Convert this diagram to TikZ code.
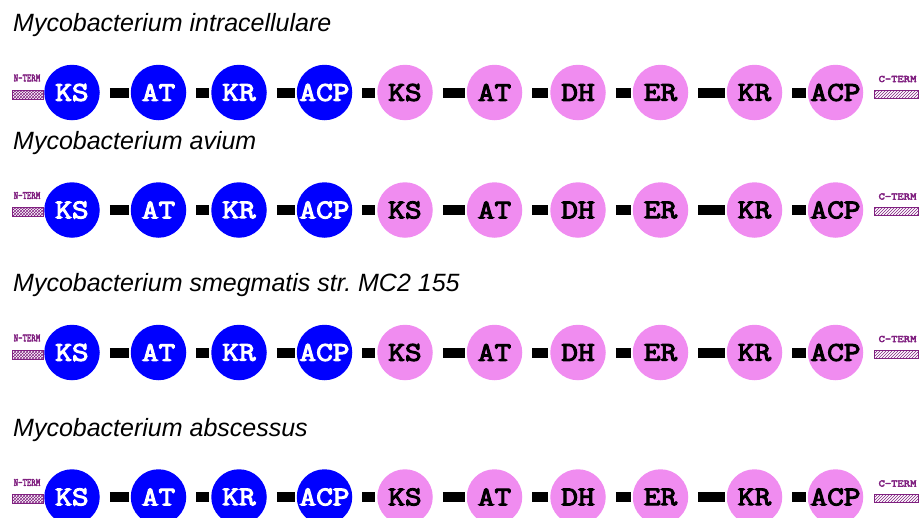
\documentclass[tikz,border=0pt]{standalone}
\usepackage{fontspec}
\setmainfont{Liberation Sans}
\newfontfamily\domfont{Latin Modern Mono}[FakeStretch=1.2, FakeBold=4]
\usetikzlibrary{patterns}
\usetikzlibrary{positioning}

\definecolor{kblue}{RGB}{0,0,255}
\definecolor{kpink}{RGB}{240,140,240}
\definecolor{kterm}{RGB}{128,32,128}

\begin{document}
\begin{tikzpicture}[x=1pt, y=1pt,
    dom/.style={circle, minimum size=55.5pt, inner sep=0pt,
        font=\domfont\fontsize{27}{27}\selectfont},
    link/.style={line width=10pt, black, shorten <=10pt, shorten >=2pt},
    termbar/.style={draw=kterm, line width=0.8pt, inner sep=0pt, pattern color=kterm},
    termtxt/.style={text=kterm, inner sep=0pt, font=\domfont\fontsize{10}{10}\selectfont},
    title/.style={anchor=base west, inner sep=0pt, font=\itshape\fontsize{25}{28}\selectfont}]
    \useasboundingbox (0,0) rectangle (920,-517);

    \foreach \y/\name [count=\r] in {92.5/intracellulare, 210/avium,
        352.5/smegmatis str.\ MC2 155, 497/abscessus} {
        % species name
        \node[title] (t\r) at (13,-\y+61) {Mycobacterium \name};

        % termini
        \node[termbar, pattern=crosshatch, minimum width=31pt, minimum height=9pt] (nb\r) at (27.5,-\y-2) {};
        \node[termtxt] (nt\r) at (27,-\y+14.5) {\scalebox{0.7}[1.1]{N-TERM}};
        \node[termbar, pattern=north east lines, minimum width=44pt, minimum height=8pt] (cb\r) at (896,-\y-1.5) {};
        \node[termtxt] (ct\r) at (897.5,-\y+13.5) {C-TERM};

        % domains
        \foreach \x/\lab/\col/\tcol [count=\i] in {72/KS/kblue/white, 158.5/AT/kblue/white,
            239/KR/kblue/white, 324.5/ACP/kblue/white, 405/KS/kpink/black,
            494.5/AT/kpink/black, 578/DH/kpink/black, 660.5/ER/kpink/black,
            754.5/KR/kpink/black, 835.5/ACP/kpink/black}
            \node[dom, fill=\col, text=\tcol] (d\r-\i) at (\x,-\y) {\lab};

        % linkers
        \foreach \i [evaluate=\i as \j using int(\i+1)] in {1,...,9}
            \draw[link] (d\r-\i) -- (d\r-\j);
    }
\end{tikzpicture}
\end{document}
